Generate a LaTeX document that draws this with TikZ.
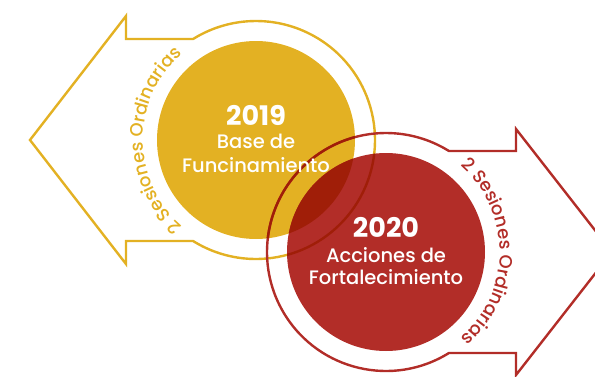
\documentclass[tikz,border=0pt]{standalone}
\usepackage{fontspec}
\setmainfont{Poppins Medium}[BoldFont={Poppins Bold}]
\usetikzlibrary{decorations.text,calc}
\definecolor{ycol}{HTML}{E3B123}
\definecolor{rcol}{HTML}{B22D28}
\definecolor{dcol}{HTML}{A01E08}
\newcommand\sesfont{\fontsize{18}{18}\selectfont}
\tikzset{
  outl/.style={line width=2.4pt, line join=miter},
  yeartxt/.style={anchor=base, text=white, font=\bfseries\fontsize{27}{27}\selectfont, inner sep=0pt},
  linetxt/.style={anchor=base, text=white, font=\fontsize{19.5}{20}\selectfont, inner sep=0pt}
}
\begin{document}
\begin{tikzpicture}[x=1pt,y=1pt]
\useasboundingbox (0,0) rectangle (595,376);
\clip (0,0) rectangle (595,376);
\coordinate (Y) at (256,236);
\coordinate (R) at (386,124);
% yellow
\fill[ycol] (Y) circle[radius=99];
\draw[ycol, outl] ($(Y)+(121.9:119)$) -- ($(Y)+(-130,101)$) -- ($(Y)+(-130,124)$) -- ($(Y)+(-226,0)$) -- ($(Y)+(-130,-124)$) -- ($(Y)+(-130,-101)$) -- ($(Y)+(238.1:119)$) arc[start angle=238.1, end angle=481.9, radius=119] -- cycle;
% red
\fill[rcol] (R) circle[radius=99];
\begin{scope}
  \clip (R) circle[radius=99];
  \fill[dcol] (Y) circle[radius=99];
  \draw[dcol, outl] (Y) circle[radius=119];
\end{scope}
\draw[rcol, outl] ($(R)+(58.1:119)$) -- ($(R)+(130,101)$) -- ($(R)+(130,123)$) -- ($(R)+(226,0)$) -- ($(R)+(130,-123)$) -- ($(R)+(130,-101)$) -- ($(R)+(-58.1:119)$) arc[start angle=-58.1, end angle=-301.9, radius=119] -- cycle;
\begin{scope}
  \clip (Y) circle[radius=99];
  \draw[dcol, outl] (R) circle[radius=119];
\end{scope}
% texts
\node[yeartxt] (y19) at ($(Y)+(0,15)$) {2019};
\node[linetxt] (y19a) at ($(Y)+(0,-8)$) {Base de};
\node[linetxt] (y19b) at ($(Y)+(0,-32)$) {Funcinamiento};
\node[yeartxt] (r20) at ($(R)+(0,15)$) {2020};
\node[linetxt] (r20a) at ($(R)+(0,-10)$) {Acciones de};
\node[linetxt] (r20b) at ($(R)+(0,-32)$) {Fortalecimiento};
\path[decorate, decoration={text along path, text align=center, text={|\sesfont\color{ycol}|2 Sesiones Ordinarias}}] ($(Y)+(260:113)$) arc[start angle=260, end angle=100, radius=113];
\path[decorate, decoration={text along path, text align=center, text={|\sesfont\color{rcol}|2 Sesiones Ordinarias}}] ($(R)+(80:114)$) arc[start angle=80, end angle=-80, radius=114];
\end{tikzpicture}
\end{document}
